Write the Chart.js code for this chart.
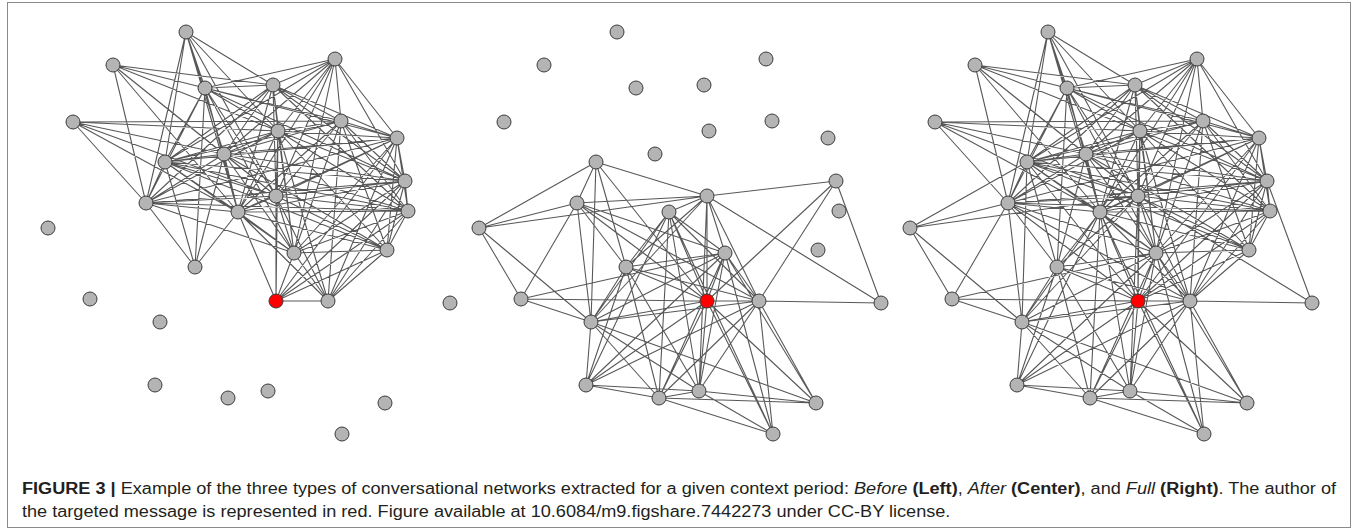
<!DOCTYPE html>
<html>
<head>
<meta charset="utf-8">
<script src="https://cdn.jsdelivr.net/npm/chart.js@4/dist/chart.umd.min.js"></script>
<style>
    body { margin: 0; background: #fff; width: 1357px; height: 530px; overflow: hidden; position: relative; }
    #frame { position: absolute; left: 7px; top: 2px; width: 1342px; height: 524px; border: 1px solid #8a8a8a; }
    #net { position: absolute; left: 0; top: 0; }
    #caption { position: absolute; left: 22px; top: 477px; font-family: "Liberation Sans", Arial, sans-serif;
        font-size: 16px; line-height: 23px; color: #231f20; white-space: nowrap; transform-origin: 0 0; }
</style>
</head>
<body>
<div id="frame"></div>
<canvas id="net" width="1357" height="460"></canvas>
<div id="caption">
    <span id="line1"><b>FIGURE 3 |</b> Example of the three types of conversational networks extracted for a given context period: <i>Before</i> <b>(Left)</b>, <i>After</i> <b>(Center)</b>, and <i>Full</i> <b>(Right)</b>. The author of</span><br>
    the targeted message is represented in red. Figure available at 10.6084/m9.figshare.7442273 under CC-BY license.
</div>
<script>
// node layout (same for all three panels)
var nodeNames = ["A", "B", "C", "D", "E", "F", "G", "H", "I", "J", "K", "L", "M", "N", "O",
                 "P", "Q", "R", "S", "RED", "T", "U", "V", "W", "X", "Y", "Z", "AA", "AB", "AC"];
var nodeX = [186, 113, 205, 273, 335, 73, 278, 341, 397, 224, 165, 405, 276, 146, 238,
             408, 294, 387, 195, 276, 328, 48, 90, 160, 155, 228, 268, 385, 342, 450];
var nodeY = [32, 65, 88, 85, 59, 122, 131, 121, 138, 154, 162, 181, 196, 203, 212,
             211, 253, 250, 267, 301, 301, 228, 299, 322, 385, 398, 391, 403, 434, 303];
var authorNode = "RED";

// edges of the "Before" network
var beforeEdges = [
    "A-C", "A-D", "A-G", "A-J", "A-K", "A-N", "A-O", "A-M",
    "B-C", "B-D", "B-G", "B-J", "B-N", "B-O", "B-M",
    "F-G", "F-H", "F-J", "F-N", "F-O", "F-M",
    "C-D", "C-E", "C-G", "C-H", "C-I", "C-K", "C-N", "C-O", "C-M", "C-Q", "C-L", "C-S",
    "D-E", "D-G", "D-H", "D-I", "D-J", "D-K", "D-N", "D-M", "D-L", "D-P", "D-O", "D-Q",
    "E-J", "E-K", "E-O", "E-M", "E-H", "E-I", "E-L", "E-Q", "E-G",
    "G-K", "G-J", "G-M", "G-O", "G-H", "G-I", "G-L", "G-P", "G-Q", "G-R", "G-RED", "G-T", "G-N",
    "H-K", "H-J", "H-M", "H-O", "H-I", "H-L", "H-P", "H-R", "H-Q", "H-T",
    "I-J", "I-K", "I-M", "I-O", "I-N", "I-L", "I-P", "I-R", "I-Q", "I-RED", "I-T",
    "J-K", "J-N", "J-O", "J-M", "J-L", "J-P", "J-R", "J-Q", "J-T", "J-S",
    "K-N", "K-O", "K-M", "K-S", "K-L", "K-P", "K-R", "K-Q",
    "L-P", "L-O", "L-M", "L-N", "L-Q", "L-R", "L-RED", "L-T",
    "M-N", "M-O", "M-P", "M-R", "M-Q", "M-RED", "M-T",
    "N-O", "N-S", "N-Q", "N-P",
    "O-S", "O-P", "O-R", "O-Q", "O-RED", "O-T",
    "P-R", "P-Q", "P-RED", "P-T",
    "Q-R", "Q-RED", "Q-T",
    "R-RED", "R-T",
    "RED-T"
];

// edges of the "After" network
var afterEdges = [
    "K-U", "K-N", "K-M", "K-W", "K-S", "K-RED",
    "N-U", "N-M", "N-V", "N-W", "N-S", "N-Q", "N-RED", "N-T",
    "U-M", "U-V", "U-W",
    "V-W", "V-RED", "V-Q",
    "W-S", "W-O", "W-M", "W-Q", "W-RED", "W-T", "W-Y", "W-Z", "W-AA", "W-X",
    "S-O", "S-M", "S-Q", "S-RED", "S-T", "S-Y", "S-Z", "S-X",
    "O-M", "O-X", "O-Y", "O-Z", "O-Q", "O-RED", "O-T", "O-AB",
    "M-L", "M-Q", "M-RED", "M-T", "M-AC", "M-Z",
    "L-RED", "L-T", "L-AC",
    "Q-RED", "Q-T", "Q-X", "Q-Y", "Q-Z", "Q-AA", "Q-AB",
    "RED-T", "RED-X", "RED-Y", "RED-Z", "RED-AB", "RED-AA",
    "T-AC", "T-X", "T-Y", "T-Z", "T-AA", "T-AB",
    "X-Y", "X-Z",
    "Y-Z", "Y-AA", "Y-AB",
    "Z-AA", "Z-AB"
];

var panelShift = [0, 431, 862];

function fullEdges() {
    var all = beforeEdges.slice();
    for (var i = 0; i < afterEdges.length; i++) {
        var e = afterEdges[i];
        var p = e.split("-");
        if (all.indexOf(e) < 0 && all.indexOf(p[1] + "-" + p[0]) < 0) {
            all.push(e);
        }
    }
    return all;
}

function edgePoints(edges, shift) {
    var pts = [];
    for (var i = 0; i < edges.length; i++) {
        var p = edges[i].split("-");
        var a = nodeNames.indexOf(p[0]);
        var b = nodeNames.indexOf(p[1]);
        pts.push({x: nodeX[a] + shift, y: nodeY[a]});
        pts.push({x: nodeX[b] + shift, y: nodeY[b]});
        pts.push({x: nodeX[b] + shift, y: null});   // break the line
    }
    return pts;
}

function nodePoints(shift) {
    var pts = [];
    for (var i = 0; i < nodeNames.length; i++) {
        pts.push({x: nodeX[i] + shift, y: nodeY[i]});
    }
    return pts;
}

var nodeFill = nodeNames.map(function(n) { return n == authorNode ? "#ff0000" : "#b4b4b4"; });

var panels = [beforeEdges, afterEdges, fullEdges()];
var datasets = [];
for (var k = 0; k < panels.length; k++) {
    datasets.push({
        data: edgePoints(panels[k], panelShift[k]),
        showLine: true,
        spanGaps: false,
        borderColor: "rgba(70,70,70,0.9)",
        borderWidth: 1.1,
        pointRadius: 0,
        order: 2
    });
    datasets.push({
        data: nodePoints(panelShift[k]),
        showLine: false,
        pointRadius: 7,
        pointBackgroundColor: nodeFill,
        pointBorderColor: "#3a3a3a",
        pointBorderWidth: 1,
        order: 1
    });
}

new Chart(document.getElementById("net"), {
    type: "scatter",
    data: {datasets: datasets},
    options: {
        responsive: false,
        animation: false,
        events: [],
        layout: {padding: 0, autoPadding: false},
        plugins: {legend: {display: false}, tooltip: {enabled: false}},
        scales: {
            x: {type: "linear", min: 0, max: 1357, display: false},
            y: {type: "linear", min: 0, max: 460, reverse: true, display: false}
        }
    }
});

// stretch the caption so the first line runs to the right edge like the original
var cap = document.getElementById("caption");
var w = document.getElementById("line1").getBoundingClientRect().width;
cap.style.transform = "scaleX(" + (1314 / w) + ")";
</script>
</body>
</html>
